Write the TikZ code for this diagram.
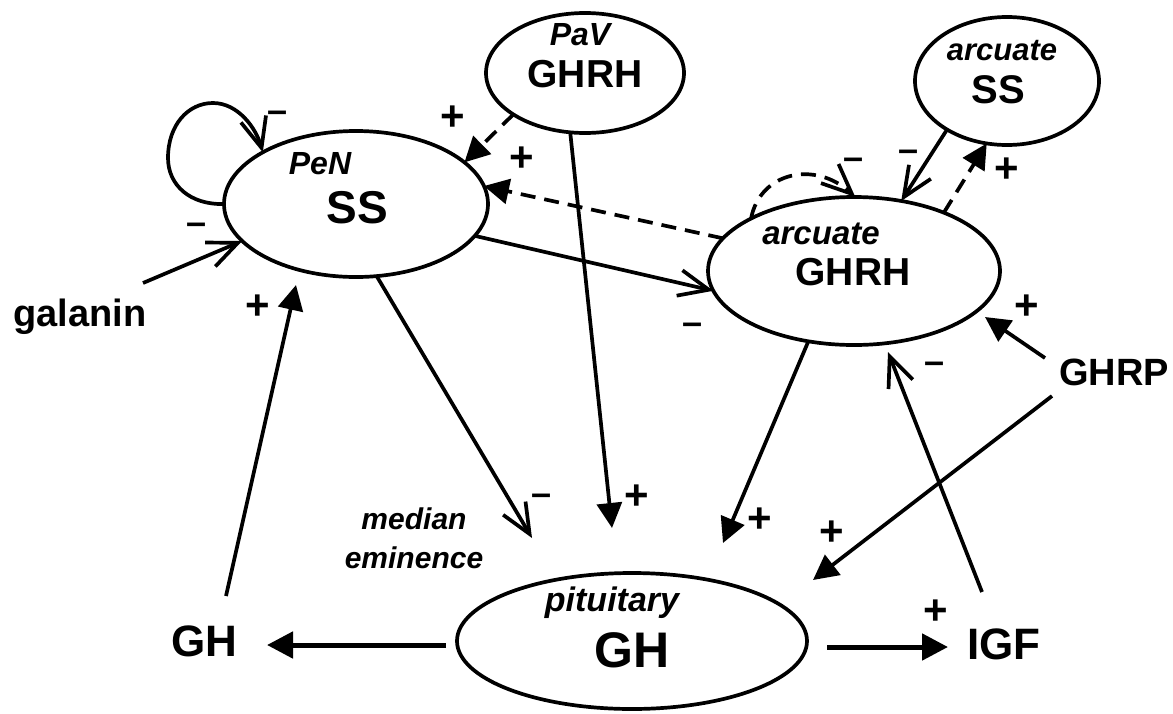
\documentclass[tikz,border=0pt]{standalone}
\usepackage{fontspec}
\setmainfont{Liberation Sans}
\usetikzlibrary{calc,positioning,shapes.geometric,arrows.meta}
\newcommand{\setfs}[1]{\fontsize{#1}{#1}\selectfont}

\begin{document}
\begin{tikzpicture}[x=0.5pt,y=-0.5pt,line width=1.85pt,
  region/.style={draw,ellipse,outer sep=0pt,inner sep=0pt},
  txt/.style={inner sep=0pt},
  open_arr/.style={-{Straight Barb[length=15pt,width=13pt]}},
  fill_arr/.style={-{Triangle[length=12.5pt,width=12.5pt]}},
  big_arr/.style={line width=2.5pt,-{Triangle[length=13pt,width=13pt]}},
  dash_ln/.style={dash pattern=on 7.5pt off 4.5pt},
  plus_lbl/.style={inner sep=0pt,font=\setfs{21}\bfseries},
  minus_lbl/.style={inner sep=0pt,font=\setfs{18}\bfseries}
  ]

  \useasboundingbox (0,0) rectangle (1173,713);

  % the regions
  \node [region, minimum width=132pt, minimum height=73pt] at(356,204) (pen) {};
  \node [region, minimum width=99pt, minimum height=60pt] at(585,73) (pav) {};
  \node [region, minimum width=92pt, minimum height=64pt] at(1007,81) (arcss) {};
  \node [region, minimum width=146pt, minimum height=74pt] at(854,271) (arc) {};
  \node [region, minimum width=175pt, minimum height=68pt] at(632,641) (pit) {};

  \node [txt, font=\setfs{16}\bfseries\itshape] at(320,164) (pen_lbl) {PeN};
  \node [txt, font=\setfs{23}\bfseries] at(357,208) (pen_txt) {SS};
  \node [txt, font=\setfs{16}\bfseries\itshape] at(580,35) (pav_lbl) {PaV};
  \node [txt, font=\setfs{19.5}\bfseries] at(585,74) (pav_txt) {GHRH};
  \node [txt, font=\setfs{15.5}\bfseries\itshape] at(1002,51) (arcss_lbl) {arcuate};
  \node [txt, font=\setfs{20}\bfseries] at(998,90) (arcss_txt) {SS};
  \node [txt, font=\setfs{16.5}\bfseries\itshape] at(821,234) (arc_lbl) {arcuate};
  \node [txt, font=\setfs{19.5}\bfseries] at(853,272) (arc_txt) {GHRH};
  \node [txt, font=\setfs{17}\bfseries\itshape] at(612,603) (pit_lbl) {pituitary};
  \node [txt, font=\setfs{25}\bfseries] at(632,650) (pit_txt) {GH};

  % outside the regions
  \node [txt, font=\setfs{22}\bfseries] at(204,641) (gh) {GH};
  \node [txt, font=\setfs{22}\bfseries] at(1004,644) (igf) {IGF};
  \node [txt, font=\setfs{19}\bfseries] at(1114,372) (ghrp) {GHRP};
  \node [txt, font=\setfs{19}\bfseries] at(80,317) (galanin) {galanin};
  \node [txt, font=\setfs{15}\bfseries\itshape, align=center] at(414,538) (median) {median\\[4.5pt]eminence};

  % free ends
  \coordinate (gh_out) at (226,596);
  \coordinate (pen_in) at (296,285);
  \coordinate (galanin_out) at (143,283);
  \coordinate (pit_in_pav) at (612,528);
  \coordinate (pit_in_pen) at (532,538);
  \coordinate (pit_in_arc) at (723,543);
  \coordinate (ghrp_out_pit) at (1052,396);
  \coordinate (pit_in_ghrp) at (813,580);
  \coordinate (ghrp_out_arc) at (1045,358);
  \coordinate (arc_in_ghrp) at (985,317);
  \coordinate (igf_out) at (982,592);
  \coordinate (arc_in_igf) at (888,352);
  \coordinate (pit_left) at (446,645);
  \coordinate (gh_in) at (267,645);
  \coordinate (pit_right) at (827,647);
  \coordinate (igf_in) at (948,647);

  % connections
  \draw [open_arr] (pen.180) .. controls (190,205) and (168,185) .. (168,158)
    .. controls (168,125) and (188,103) .. (213,103)
    .. controls (238,103) and (256,128) .. (pen.151);
  \draw [open_arr] (galanin_out) -- (pen.198);
  \draw [fill_arr] (gh_out) -- (pen_in);
  \draw [fill_arr,dash_ln] (pav.210) -- (pen.21);
  \draw [fill_arr,dash_ln] (arc.166) -- (pen.8);
  \draw [fill_arr] (pav.256) -- (pit_in_pav);
  \draw [open_arr] (pen.-15) -- (arc.188);
  \draw [open_arr] (pen.-74) -- (pit_in_pen);
  \draw [fill_arr] (arc.237) -- (pit_in_arc);
  \draw [fill_arr] (ghrp_out_pit) -- (pit_in_ghrp);
  \draw [fill_arr] (ghrp_out_arc) -- (arc_in_ghrp);
  \draw [open_arr] (igf_out) -- (arc_in_igf);
  \draw [open_arr,dash_ln] (arc.153) .. controls (760,172) and (815,160) .. (arc.89);
  \draw [open_arr] (arcss.219) -- (arc.56);
  \draw [fill_arr,dash_ln] (arc.33) -- (arcss.252);
  \draw [big_arr] (pit_left) -- (gh_in);
  \draw [big_arr] (pit_right) -- (igf_in);

  % signs
  \foreach \x/\y/\n in {258/307/1, 453/118/2, 522/159/3, 637/497/4, 760/520/5,
      832/533/6, 1027/307/7, 936/612/8, 1007/170/9}
    \node [plus_lbl] at(\x,\y) (plus\n) {+};
  \foreach \x/\y/\n in {278/117/1, 197/229/2, 693/329/3, 542/500/4, 934/368/5,
      854/164/6, 909/156/7}
    \node [minus_lbl] at(\x,\y) (minus\n) {--};

\end{tikzpicture}
\end{document}
